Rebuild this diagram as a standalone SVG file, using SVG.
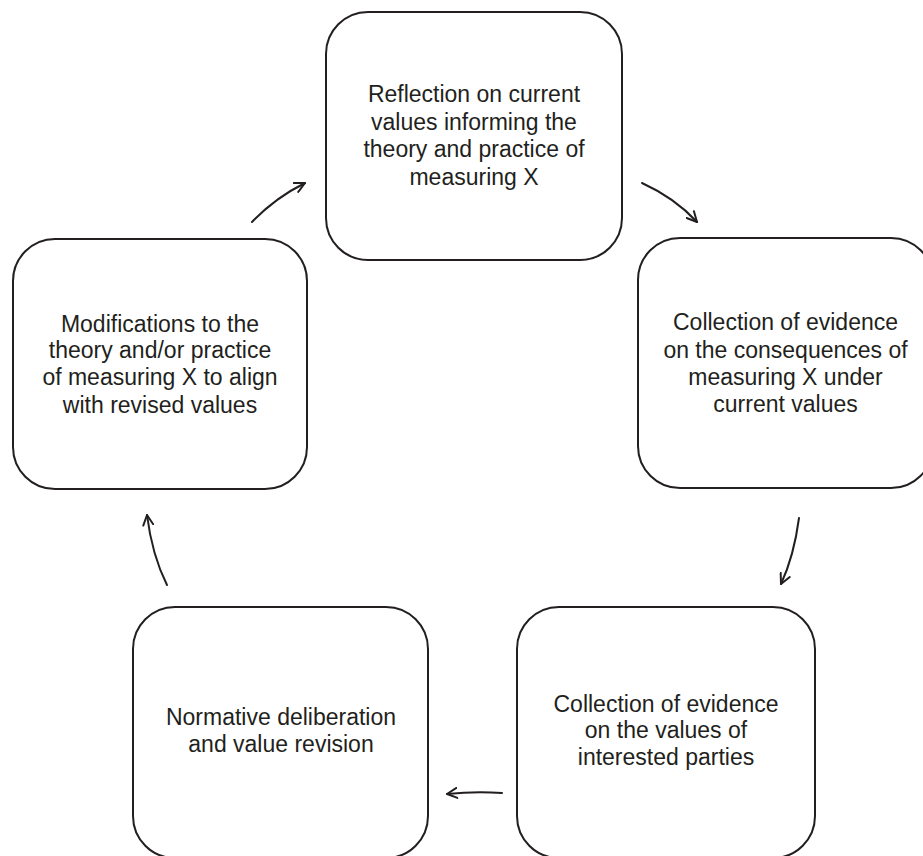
<svg xmlns="http://www.w3.org/2000/svg" width="923" height="856" viewBox="0 0 923 856">
<defs>
<style>
.box{fill:#fff;stroke:#231f20;stroke-width:2}
.lbl{font-family:"Liberation Sans",Arial,sans-serif;font-size:23px;fill:#231f20;text-anchor:middle}
.arr{fill:none;stroke:#231f20;stroke-width:2;stroke-linecap:round;marker-end:url(#ah)}
</style>
<marker id="ah" viewBox="0 0 12 12" refX="11" refY="6" markerWidth="12" markerHeight="12" markerUnits="userSpaceOnUse" orient="auto">
<path d="M1,1 L11,6 L1,11" fill="none" stroke="#231f20" stroke-width="2" stroke-linecap="round" stroke-linejoin="round"/>
</marker>
</defs>
<rect width="923" height="856" fill="#fff"/>
<g id="connectors">
<path class="arr" d="M252,222 Q275,198 305,183"/>
<path class="arr" d="M642,183 Q675,198 697,222"/>
<path class="arr" d="M799,518 Q794,556 781,584"/>
<path class="arr" d="M502,793 Q475,791 447,794"/>
<path class="arr" d="M167,585 Q152,555 147,515"/>
</g>
<g id="n-reflection">
<rect class="box" x="326" y="12" width="296" height="248" rx="42"/>
<text class="lbl"><tspan x="474" y="102">Reflection on current</tspan><tspan x="474" y="130">values informing the</tspan><tspan x="474" y="157">theory and practice of</tspan><tspan x="474" y="185">measuring X</tspan></text>
</g>
<g id="n-consequences">
<rect class="box" x="638" y="238" width="295" height="250" rx="42"/>
<text class="lbl"><tspan x="785.5" y="330">Collection of evidence</tspan><tspan x="785.5" y="358">on the consequences of</tspan><tspan x="785.5" y="385">measuring X under</tspan><tspan x="785.5" y="412">current values</tspan></text>
</g>
<g id="n-interested">
<rect class="box" x="517" y="607" width="298" height="251" rx="42"/>
<text class="lbl"><tspan x="666" y="712">Collection of evidence</tspan><tspan x="666" y="738">on the values of</tspan><tspan x="666" y="765">interested parties</tspan></text>
</g>
<g id="n-deliberation">
<rect class="box" x="133" y="607" width="295" height="251" rx="42"/>
<text class="lbl"><tspan x="281" y="725">Normative deliberation</tspan><tspan x="281" y="752">and value revision</tspan></text>
</g>
<g id="n-modifications">
<rect class="box" x="13" y="239" width="294" height="250" rx="42"/>
<text class="lbl"><tspan x="160" y="332">Modifications to the</tspan><tspan x="160" y="358">theory and/or practice</tspan><tspan x="160" y="385">of measuring X to align</tspan><tspan x="160" y="413">with revised values</tspan></text>
</g>
</svg>
